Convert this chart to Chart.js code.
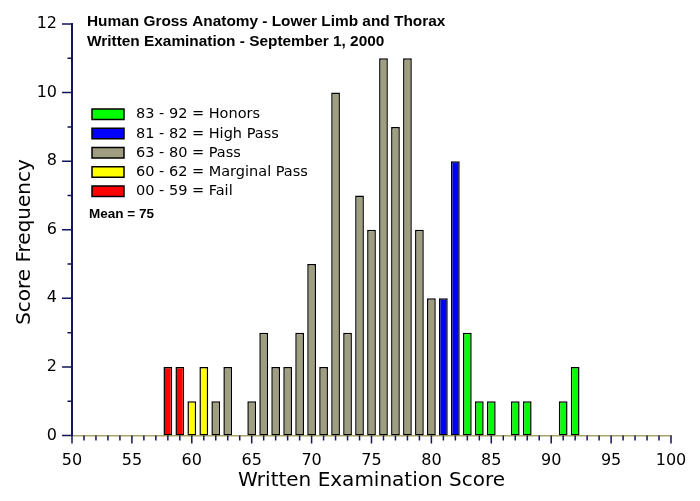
<!DOCTYPE html>
<html>
<head>
<meta charset="utf-8">
<script src="https://cdn.jsdelivr.net/npm/chart.js@4.4.1/dist/chart.umd.min.js"></script>
<style>
  body { margin: 0; background: #fff; }
  #wrap { width: 700px; height: 501px; }
</style>
</head>
<body>
<div id="wrap"><canvas id="myChart" width="700" height="501"></canvas></div>
<script>
// Data
const scores = [58, 59, 60, 61, 62, 63, 64, 65, 66, 67, 68, 69, 70, 71, 72, 73, 74, 75,
                76, 77, 78, 79, 80, 81, 82, 83, 84, 85, 86, 87, 88, 89, 90, 91, 92];
const counts = [2, 2, 1, 2, 1, 2, 0, 1, 3, 2, 2, 3, 5, 2, 10, 3, 7, 6,
                11, 9, 11, 6, 4, 4, 8, 3, 1, 1, 0, 1, 1, 0, 0, 1, 2];
// grade band of each bar, as coloured in the picture (0 = Honors ... 4 = Fail)
const barGrade = [4, 4, 3, 3, 2, 2, 2, 2, 2, 2, 2, 2, 2, 2, 2, 2, 2, 2,
                  2, 2, 2, 2, 2, 1, 1, 0, 0, 0, 0, 0, 0, 0, 0, 0, 0];
const gradeLabels = ['83 - 92 = Honors', '81 - 82 = High Pass', '63 - 80 = Pass',
                     '60 - 62 = Marginal Pass', '00 - 59 = Fail'];
const gradeColors = ['#00ff00', '#0000ff', '#a09e80', '#ffff00', '#ff0000'];
const titleLines = ['Human Gross Anatomy - Lower Limb and Thorax',
                    'Written Examination - September 1, 2000'];
const meanText = 'Mean = 75';
const xTitle = 'Written Examination Score';
const yTitle = 'Score Frequency';

const FONT = '"DejaVu Sans", sans-serif';
const BOLD_FONT = '"Liberation Sans", Arial, sans-serif';
const AXIS_COLOR = '#14145a';

// one dataset per grade band, all drawn at the same x (grouped: false)
const datasets = gradeLabels.map((label, g) => ({
    label: label,
    data: scores.map((x, i) => ({ x: x, y: counts[i], g: barGrade[i] }))
                .filter(p => p.g === g),
    backgroundColor: gradeColors[g],
    borderColor: '#000',
    borderWidth: 1.5,
    borderSkipped: false,
    grouped: false,
    categoryPercentage: 1,
    barPercentage: 0.73
}));

// ticks with long majors and short minors, legend, titles
const decor = {
    id: 'decor',
    afterDraw(chart) {
        const ctx = chart.ctx;
        const xs = chart.scales.x;
        const ys = chart.scales.y;
        const area = chart.chartArea;
        ctx.save();
        ctx.strokeStyle = AXIS_COLOR;
        ctx.lineWidth = 1.5;
        ctx.beginPath();
        xs.ticks.forEach(t => {
            const px = xs.getPixelForValue(t.value);
            const len = t.value % 5 === 0 ? 8 : 5;
            ctx.moveTo(px, area.bottom);
            ctx.lineTo(px, area.bottom + len);
        });
        ys.ticks.forEach(t => {
            const py = ys.getPixelForValue(t.value);
            const len = t.value % 2 === 0 ? 10 : 4.5;
            ctx.moveTo(area.left, py);
            ctx.lineTo(area.left - len, py);
        });
        ctx.stroke();

        // titles
        ctx.fillStyle = '#000';
        ctx.textBaseline = 'middle';
        ctx.textAlign = 'left';
        ctx.font = 'bold 15.4px ' + BOLD_FONT;
        ctx.fillText(titleLines[0], 87, 22);
        ctx.fillText(titleLines[1], 87, 42);

        // legend
        ctx.font = '14.5px ' + FONT;
        chart.data.datasets.forEach((ds, i) => {
            const y = 109 + i * 19.25;
            ctx.fillStyle = ds.backgroundColor;
            ctx.fillRect(92, y, 32, 10.5);
            ctx.strokeStyle = '#000';
            ctx.lineWidth = 1.5;
            ctx.strokeRect(92, y, 32, 10.5);
            ctx.fillStyle = '#000';
            ctx.fillText(ds.label, 136, y + 5.5);
        });

        ctx.font = 'bold 13.5px ' + BOLD_FONT;
        ctx.fillText(meanText, 89, 214.5);

        // y axis title, a bit below the middle of the axis as in the picture
        ctx.font = '20px ' + FONT;
        ctx.textAlign = 'center';
        ctx.translate(25, 242);
        ctx.rotate(-Math.PI / 2);
        ctx.fillText(yTitle, 0, 0);
        ctx.restore();
    }
};

const chart = new Chart('myChart', {
    type: 'bar',
    data: { datasets: datasets },
    options: {
        responsive: false,
        animation: false,
        devicePixelRatio: 1,
        layout: { padding: { left: 0, right: 29, top: 24, bottom: 0 } },
        plugins: {
            legend: { display: false },
            title: { display: false },
            tooltip: { enabled: false }
        },
        scales: {
            x: {
                type: 'linear',
                min: 50,
                max: 100,
                offset: false,
                grid: { display: false, offset: false, drawTicks: true, tickLength: 8 },
                border: { display: true, color: '#a8a468', width: 1.5 },
                ticks: {
                    stepSize: 1,
                    autoSkip: false,
                    maxRotation: 0,
                    padding: 8,
                    color: '#000',
                    font: { family: FONT, size: 16 },
                    callback: v => (v % 5 === 0 ? v : '')
                },
                title: {
                    display: true,
                    text: xTitle,
                    color: '#000',
                    font: { family: FONT, size: 20 },
                    padding: { top: 0, bottom: 8.5 }
                },
                afterFit: s => { s.height = 65.5; }
            },
            y: {
                min: 0,
                max: 12,
                grid: { display: false, drawTicks: true, tickLength: 10 },
                border: { display: true, color: AXIS_COLOR, width: 2 },
                ticks: {
                    stepSize: 1,
                    padding: 5,
                    color: '#000',
                    font: { family: FONT, size: 16 },
                    callback: v => (v % 2 === 0 ? v : '')
                },
                title: { display: false },
                afterFit: s => { s.width = 72; }
            }
        }
    },
    plugins: [decor]
});
</script>
</body>
</html>
